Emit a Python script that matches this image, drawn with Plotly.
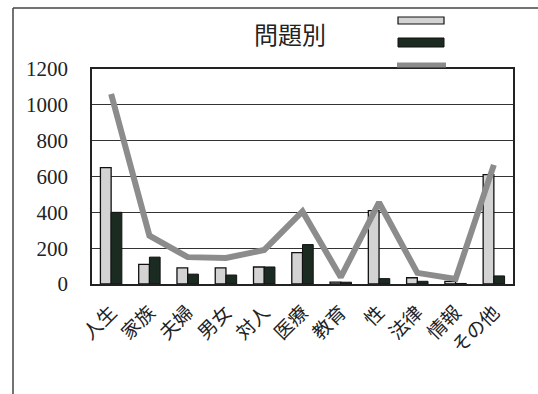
import plotly.graph_objects as go

categories = ["人生", "家族", "夫婦", "男女", "対人", "医療", "教育", "性", "法律", "情報", "その他"]
series_light = [650, 110, 90, 90, 95, 175, 10, 410, 35, 15, 610]
series_dark = [400, 150, 55, 50, 95, 220, 10, 30, 15, 3, 45]
series_line = [1060, 270, 150, 145, 190, 405, 38, 455, 62, 28, 665]
y_ticks = [0, 200, 400, 600, 800, 1000, 1200]
title_text = "問題別"

fig = go.Figure()
fig.add_trace(go.Bar(x=categories, y=series_light, name="",
                     marker=dict(color="#d3d3d3", line=dict(color="#111111", width=1.3))))
fig.add_trace(go.Bar(x=categories, y=series_dark, name="",
                     marker=dict(color="#1c2b22", line=dict(color="#111111", width=1))))
fig.add_trace(go.Scatter(x=categories, y=series_line, name="", mode="lines",
                         line=dict(color="#8c8c8c", width=6)))

W, H = 538, 394
L, R, T, B = 92, 513, 69, 284
def px(x): return (x - L) / (R - L)
def py(y): return (B - y) / (B - T)

shapes = [
    # outer frame
    dict(type="line", xref="paper", yref="paper", x0=px(13), x1=px(538), y0=py(8), y1=py(8),
         line=dict(color="#444444", width=1.5)),
    dict(type="line", xref="paper", yref="paper", x0=px(13), x1=px(13), y0=py(8), y1=py(394),
         line=dict(color="#444444", width=1.5)),
    # legend swatches
    dict(type="rect", xref="paper", yref="paper", x0=px(398), x1=px(444), y0=py(17), y1=py(24),
         fillcolor="#d3d3d3", line=dict(color="#111111", width=1.2)),
    dict(type="rect", xref="paper", yref="paper", x0=px(398), x1=px(444), y0=py(38), y1=py(47),
         fillcolor="#1c2b22", line=dict(color="#111111", width=1)),
    dict(type="line", xref="paper", yref="paper", x0=px(397), x1=px(446), y0=py(65), y1=py(65),
         line=dict(color="#8c8c8c", width=5)),
]

fig.update_layout(
    width=W, height=H,
    margin=dict(l=L, r=W - R, t=T, b=H - B, autoexpand=False),
    paper_bgcolor="white", plot_bgcolor="white",
    showlegend=False,
    barmode="group", bargap=0.44, bargroupgap=0,
    shapes=shapes,
    annotations=[dict(text=title_text, xref="paper", yref="paper", x=px(290), y=py(34),
                      showarrow=False, xanchor="center", yanchor="middle",
                      font=dict(family="Noto Sans CJK JP", size=24, color="#222222"))],
)
fig.update_yaxes(range=[0, 1200], tickvals=y_ticks, showgrid=True, gridcolor="#333333", gridwidth=1,
                 showline=True, linecolor="#222222", linewidth=1.5, mirror=True,
                 ticks="", ticklabelstandoff=18, zeroline=False, automargin=False,
                 tickfont=dict(family="Liberation Serif", size=21, color="#222222"))
fig.update_xaxes(showline=True, linecolor="#222222", linewidth=1.5, mirror=True,
                 ticks="", tickangle=-45, ticklabelstandoff=8, automargin=False,
                 tickfont=dict(family="Noto Sans CJK JP", size=19, color="#222222"))

fig.write_html("out.html", config={"displayModeBar": False},
               post_script="document.body.style.margin='0';document.body.style.overflow='hidden';")
